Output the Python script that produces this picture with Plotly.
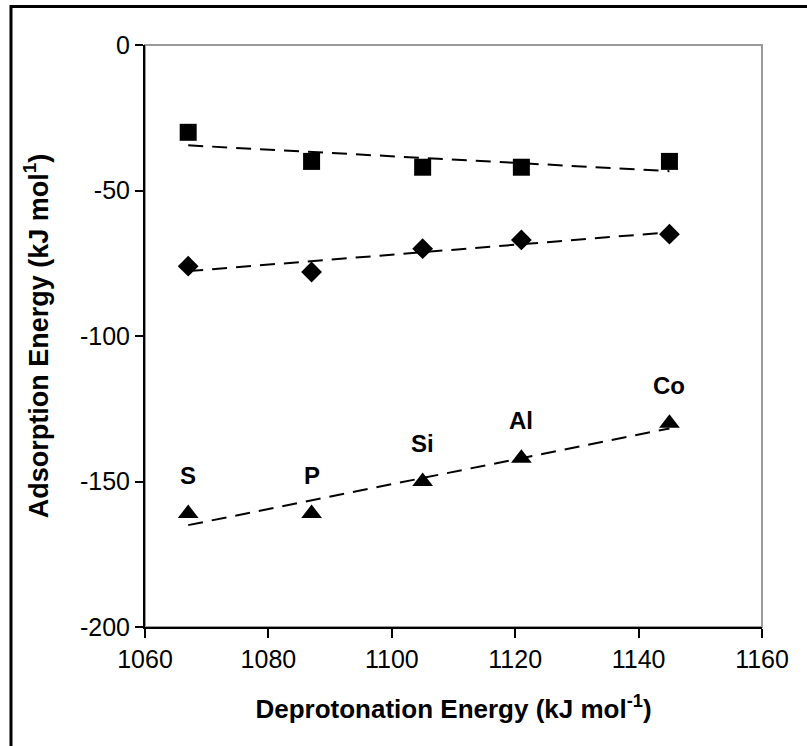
import numpy as np
import plotly.graph_objects as go

# ---- data ----
deprotonation = [1067, 1087, 1105, 1121, 1145]
elements = ["S", "P", "Si", "Al", "Co"]
series_square = [-30, -40, -42, -42, -40]
series_diamond = [-76, -78, -70, -67, -65]
series_triangle = [-161, -161, -150, -142, -130]
x_ticks = [1060, 1080, 1100, 1120, 1140, 1160]
y_ticks = [0, -50, -100, -150, -200]

FONT = "Liberation Sans, Arial, sans-serif"

fig = go.Figure()

x = np.array(deprotonation, dtype=float)
for ys, sym, size in [
    (series_square, "square", 17),
    (series_diamond, "diamond", 16),
    (series_triangle, "triangle-up", 18),
]:
    y = np.array(ys, dtype=float)
    m, b = np.polyfit(x, y, 1)
    xl = np.array([x.min(), x.max()])
    fig.add_trace(go.Scatter(
        x=xl, y=m * xl + b, mode="lines",
        line=dict(color="black", width=2, dash="15px,9px"),
        showlegend=False, hoverinfo="skip"))
    fig.add_trace(go.Scatter(
        x=deprotonation, y=ys, mode="markers",
        marker=dict(symbol=sym, size=size, color="black"),
        showlegend=False))

for xe, ye, lab in zip(deprotonation, series_triangle, elements):
    fig.add_annotation(x=xe, y=ye, text="<b>%s</b>" % lab, showarrow=False,
                       yshift=38, font=dict(family=FONT, size=24, color="black"))

# plot-area frame (grey top/right)
fig.add_shape(type="rect", xref="paper", yref="paper", x0=0, y0=0, x1=1, y1=1,
              line=dict(color="#9a9a9a", width=2), layer="below")
# outer chart border (black)
fig.add_shape(type="rect", xref="paper", yref="paper",
              x0=-0.2172, x1=1.09, y0=-0.24, y1=1.066,
              line=dict(color="black", width=3), layer="below")

fig.update_layout(
    width=807, height=746,
    margin=dict(l=145, r=45, t=45, b=119),
    paper_bgcolor="white", plot_bgcolor="white",
    font=dict(family=FONT, color="black"),
    xaxis=dict(
        range=[1060, 1160], tickvals=x_ticks, ticktext=[str(v) for v in x_ticks],
        showgrid=False, zeroline=False, showline=True, linecolor="black", linewidth=2,
        ticks="outside", ticklen=9, tickwidth=2, tickcolor="black",
        tickfont=dict(family=FONT, size=25, color="black"),
        title=dict(text="<b>Deprotonation Energy (kJ mol<sup>-1</sup>)</b>",
                   font=dict(family=FONT, size=26, color="black"), standoff=28),
    ),
    yaxis=dict(
        range=[-200, 0], tickvals=y_ticks, ticktext=[str(v) for v in y_ticks],
        showgrid=False, zeroline=False, showline=True, linecolor="black", linewidth=2,
        ticks="outside", ticklen=8, tickwidth=2, tickcolor="black",
        tickfont=dict(family=FONT, size=25, color="black"),
        title=dict(text="<b>Adsorption Energy (kJ mol<sup>1</sup>)</b>",
                   font=dict(family=FONT, size=27, color="black"), standoff=24),
    ),
)

fig.write_html("out.html")
